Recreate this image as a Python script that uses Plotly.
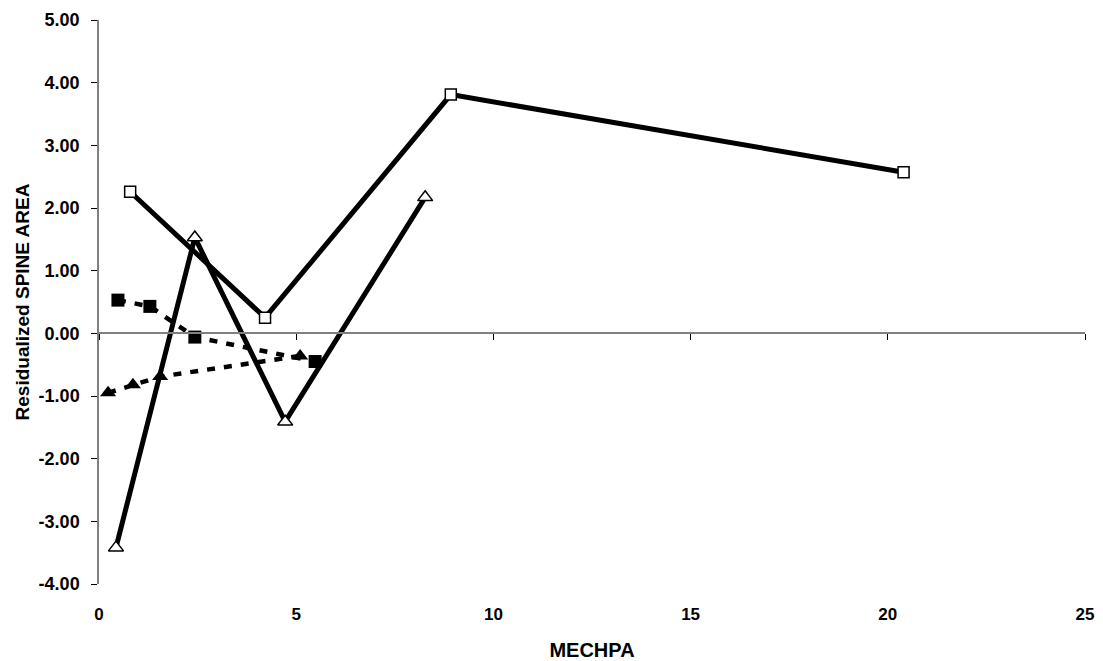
import plotly.graph_objects as go

# Data
open_sq_x = [0.79, 4.21, 8.92, 20.4]
open_sq_y = [2.26, 0.25, 3.81, 2.57]

open_tri_x = [0.43, 2.43, 4.72, 8.27]
open_tri_y = [-3.42, 1.53, -1.41, 2.17]

fill_sq_x = [0.48, 1.29, 2.43, 5.48]
fill_sq_y = [0.53, 0.43, -0.06, -0.45]

fill_tri_x = [0.23, 0.86, 1.55, 5.10]
fill_tri_y = [-0.95, -0.82, -0.69, -0.36]

x_ticks = [0, 5, 10, 15, 20, 25]
y_ticks = [-4, -3, -2, -1, 0, 1, 2, 3, 4, 5]

FONT = "Liberation Sans, Arial, sans-serif"

fig = go.Figure()

fig.add_trace(go.Scatter(
    x=fill_sq_x, y=fill_sq_y, mode="lines+markers",
    line=dict(color="black", width=4.5, dash="8px,9px"),
    marker=dict(symbol="square", size=13, color="black"),
    showlegend=False))
fig.add_trace(go.Scatter(
    x=fill_tri_x, y=fill_tri_y, mode="lines+markers",
    line=dict(color="black", width=4.5, dash="8px,9px"),
    marker=dict(symbol="triangle-up", size=14, color="black"),
    showlegend=False))
fig.add_trace(go.Scatter(
    x=open_sq_x, y=open_sq_y, mode="lines+markers",
    line=dict(color="black", width=5),
    marker=dict(symbol="square", size=11, color="white",
                line=dict(color="black", width=1.5)),
    showlegend=False))
fig.add_trace(go.Scatter(
    x=open_tri_x, y=open_tri_y, mode="lines+markers",
    line=dict(color="black", width=5),
    marker=dict(symbol="triangle-up", size=13, color="white",
                line=dict(color="black", width=1.5)),
    showlegend=False))

# invisible trace for the crossing x-axis at y=0
fig.add_trace(go.Scatter(x=[0], y=[0], xaxis="x2", mode="markers",
                         marker=dict(opacity=0), showlegend=False,
                         hoverinfo="skip"))

fig.update_layout(
    width=1103, height=661,
    margin=dict(l=99, r=18, t=20, b=77),
    paper_bgcolor="white", plot_bgcolor="white",
    font=dict(family=FONT, color="black"),
    xaxis=dict(
        range=[0, 25], tickvals=x_ticks, ticktext=[str(v) for v in x_ticks],
        showgrid=False, zeroline=False, showline=False, ticks="",
        ticklabelstandoff=18,
        tickfont=dict(family=FONT, size=17, color="black", weight="bold"),
        title=dict(text="<b>MECHPA</b>", font=dict(family=FONT, size=20),
                   standoff=22),
        automargin=False,
    ),
    xaxis2=dict(
        range=[0, 25], overlaying="x", matches="x", anchor="free",
        position=4 / 9, tickvals=x_ticks, showticklabels=False,
        ticks="outside", ticklen=6, tickcolor="black", tickwidth=1,
        showline=True, linecolor="#808080", linewidth=1.5,
        showgrid=False, zeroline=False,
    ),
    yaxis=dict(
        range=[-4, 5], tickvals=y_ticks,
        ticktext=[f"{v:.2f}" for v in y_ticks],
        showgrid=False, zeroline=False,
        showline=True, linecolor="#808080", linewidth=1.5,
        ticks="outside", ticklen=6, tickcolor="black", tickwidth=1,
        ticklabelstandoff=8,
        tickfont=dict(family=FONT, size=18, color="black", weight="bold"),
        title=dict(text="<b>Residualized SPINE AREA</b>",
                   font=dict(family=FONT, size=19), standoff=4),
        automargin=False,
    ),
)

fig.write_html("out.html")
